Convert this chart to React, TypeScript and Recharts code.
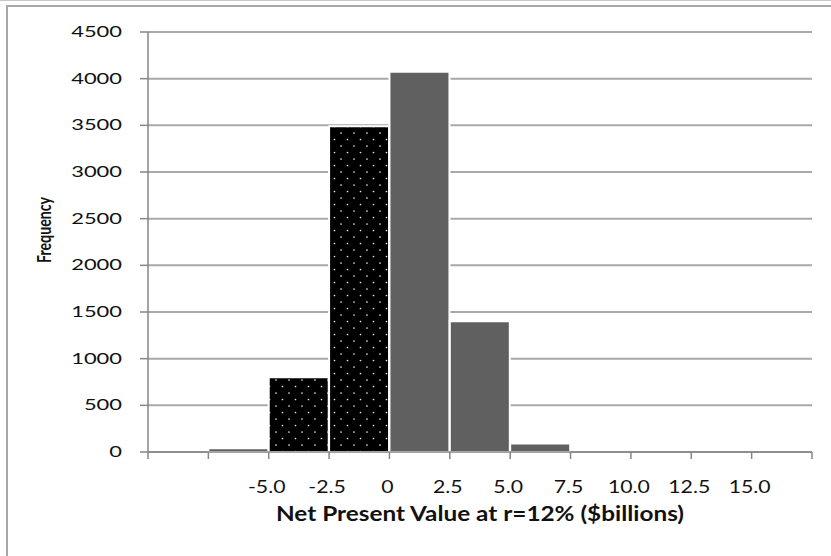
import React from 'react';
import { BarChart, Bar, Cell, XAxis, YAxis, CartesianGrid, Label } from 'recharts';

// histogram bins, each label is the upper limit of the bin
const binLabels = ['', '-5.0', '-2.5', '0', '2.5', '5.0', '7.5', '10.0', '12.5', '15.0', ''];
const frequencies = [0, 40, 800, 3490, 4075, 1400, 90, 0, 0, 0, 0];
const dottedBins = ['-2.5', '0'];
const yTicks = [0, 500, 1000, 1500, 2000, 2500, 3000, 3500, 4000, 4500];

const data = binLabels.map((label, i) => ({ id: i, label, frequency: frequencies[i] }));

const W = 831;
const H = 556;
const margin = { top: 32, right: 19, bottom: 0, left: 0 };
const yAxisWidth = 148;
const xAxisHeight = 104;
const band = (W - margin.left - margin.right - yAxisWidth) / binLabels.length;

const axisColor = '#868686';
const gridColor = '#a9a9a9';
const textColor = '#111';
const font = 'Lato, "Open Sans", sans-serif';

const YTick = ({ x, y, payload }: any) => (
  <text
    transform={`translate(${x},${y + 5}) scale(1.37,1)`}
    textAnchor="end"
    fontFamily={font}
    fontSize={16}
    fill={textColor}
  >
    {payload.value}
  </text>
);

const XTick = ({ x, y, payload, index }: any) => {
  const right = x + band / 2;
  const label = binLabels[payload.value];
  return (
    <g>
      {index === 0 && <line x1={x - band / 2} x2={x - band / 2} y1={y} y2={y + 7} stroke={axisColor} strokeWidth={1.5} />}
      <line x1={right} x2={right} y1={y} y2={y + 7} stroke={axisColor} strokeWidth={1.5} />
      {label && (
        <text
          transform={`translate(${right - 2},${y + 41}) scale(1.25,1)`}
          textAnchor="middle"
          fontFamily={font}
          fontSize={17}
          fill={textColor}
        >
          {label}
        </text>
      )}
    </g>
  );
};

const XTitle = ({ viewBox }: any) => (
  <text
    x={viewBox.x + viewBox.width / 2}
    y={viewBox.y + 69}
    textAnchor="middle"
    fontFamily={font}
    fontWeight="bold"
    fontSize={20}
    fill={textColor}
    textLength={408}
    lengthAdjust="spacingAndGlyphs"
  >
    Net Present Value at r=12% ($billions)
  </text>
);

const YTitle = ({ viewBox }: any) => {
  const cx = 51;
  const cy = viewBox.y + viewBox.height / 2 - 12;
  return (
    <text
      transform={`translate(${cx},${cy}) rotate(-90)`}
      textAnchor="middle"
      fontFamily={font}
      fontWeight="bold"
      fontSize={19}
      fill={textColor}
      textLength={66}
      lengthAdjust="spacingAndGlyphs"
    >
      Frequency
    </text>
  );
};

const App: React.FC = () => {
  return (
    <div style={{ position: 'absolute', left: 0, top: 0, width: W, height: H, background: '#fff', overflow: 'hidden' }}>
      {/* frame of the chart area */}
      <div style={{ position: 'absolute', left: 0, top: 0, width: W, height: 1, background: '#c8c8c8' }} />
      <div style={{ position: 'absolute', left: 6, top: 5, width: W - 6, height: 2, background: '#a8a8a8' }} />
      <div style={{ position: 'absolute', left: 6, top: 5, width: 2, height: H - 5, background: '#a8a8a8' }} />
      <div style={{ position: 'absolute', left: 0, top: 0 }}>
        <BarChart width={W} height={H} data={data} margin={margin} barCategoryGap={0} barGap={0}>
          <defs>
            <pattern id="dots" width={13} height={13} patternUnits="userSpaceOnUse">
              <rect width={13} height={13} fill="#000" />
              <circle cx={3} cy={3} r={0.85} fill="#e6e6e6" />
              <circle cx={9.5} cy={9.5} r={0.85} fill="#e6e6e6" />
            </pattern>
          </defs>
          <CartesianGrid vertical={false} stroke={gridColor} strokeWidth={2} />
          <XAxis
            dataKey="id"
            type="category"
            height={xAxisHeight}
            axisLine={{ stroke: axisColor, strokeWidth: 1.5 }}
            tickLine={false}
            tickSize={0}
            tickMargin={0}
            interval={0}
            tick={<XTick />}
          >
            <Label content={<XTitle />} />
          </XAxis>
          <YAxis
            width={yAxisWidth}
            domain={[0, 4500]}
            ticks={yTicks}
            interval={0}
            axisLine={{ stroke: axisColor, strokeWidth: 1.5 }}
            tickLine={{ stroke: axisColor, strokeWidth: 1.5 }}
            tickSize={8}
            tickMargin={18}
            tick={<YTick />}
          >
            <Label content={<YTitle />} />
          </YAxis>
          <Bar dataKey="frequency" stroke="#ffffff" strokeWidth={2} isAnimationActive={false}>
            {data.map((d) => (
              <Cell key={d.id} fill={dottedBins.includes(d.label) ? 'url(#dots)' : '#606060'} />
            ))}
          </Bar>
        </BarChart>
      </div>
    </div>
  );
};

export default App;
